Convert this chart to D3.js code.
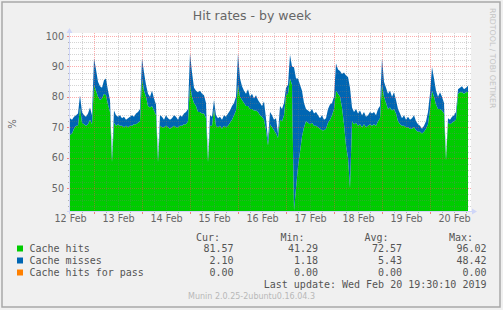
<!DOCTYPE html>
<html lang="en">
<head>
<meta charset="UTF-8">
<title>Hit rates - by week</title>
<script src="https://d3js.org/d3.v7.min.js"></script>
<style>
  body { margin: 0; }
  svg { display: block; }
  text { font-family: "DejaVu Sans", sans-serif; fill: #666; }
  .mono { font-family: "DejaVu Sans Mono", monospace; fill: #555; }
</style>
</head>
<body>
<svg id="chart" width="503" height="310"></svg>
<script>
// hourly samples, first one 12 Feb 12:00
const hits = [
  67.5,68,69.5,70.5,70.5,76.5,71.5,71,70.5,71,72.5,71,
  84,82,80,79,79.5,81,80.5,77.5,75,58.5,71.5,70.5,71,70.5,70.5,70,70.5,70,70.5,70.5,71,71,71.5,72,
  86,82,80,77,76.5,77,75.5,74,58.5,70.5,70,70,70.5,70,69.5,70,70.5,70,70,70.5,70.5,71,71,72,
  84,80,78,77,75,75,74.5,74.5,73,58.5,70.5,70.5,76,70.5,70,70.5,69.5,70.5,70,70.5,71.5,72.5,74,75.5,
  84,80,79,78,77,77,76,76,75.5,75.5,75,74,73.5,72.5,69,64,71,70,69,68,66.5,72.5,72,74,
  80.5,81,86,84,41.3,50,57,62,67,70,72,71.5,71,71.5,70.5,70.5,70,69.5,69,69,69.5,71.5,72.5,74,
  76,82,81,80,76.5,71,64,60,50,72,71,71.5,70.5,71,70,71,70,70.5,71,70.5,71,70.5,72,73,
  84,80,78,76,76.5,75.5,76,74.5,72,71,70.5,70.5,70,70,69.5,69.5,70,69,68.5,68.5,68,68.5,69.5,71,
  76,82,80,77.5,76,76,75.5,74.5,59,71.5,71,71.5,72,72.5,81,81.5,81.5,81,81.5,81.57
];
const misses = [
  5.5,4.5,4,3.5,4,4,3.5,3,3,3.5,4,3,
  8.7,7,5,4.5,3.5,4.5,5.5,4.5,4,1.5,4,3.5,2.5,3.5,2.5,3.5,2,3,3,3.5,2.5,3.5,3.5,4,
  6.7,6,4,4,3.5,5,4,3.5,1.5,3.5,3.5,2.5,3.5,3,3,3,3.5,3.5,2.5,3.5,3,3.5,4,4,
  10.3,8,5,5,6.5,7,6.5,6,5,1,3.5,3,3,3.5,3,3,3,3.5,3.5,4,4,4.5,4,4.5,
  10.3,6,4.5,4,4,5.5,4,5,4,5,4,4,3.5,6,4,2,4,4,3.5,5,1.5,4.5,4,4,
  2.5,3,7.8,6,48.4,36,29,22,15,8,4,4,4,4.5,4,4.5,4,3.5,5,3.5,3.5,4.5,5,4,
  4,9,8,8.5,11,17,23,26.5,33,4.5,4,4.5,4,4.5,4,4,3.5,3.5,4,4,4,3.5,4,4,
  8.7,5,5,5,5.5,4.5,5.5,4.5,4,3.5,2.5,3.5,2.5,3.5,3,3.5,4,3,2.5,2,1.5,2,2.5,4,
  5,7.8,6,4.5,4,5.5,4.5,3.5,1,1.5,1.5,2,2,2.5,1.5,1.5,2,1.5,1.5,2.1
];
const pass = hits.map(() => 0); // 0.00 all week

const yTicks = [50, 60, 70, 80, 90, 100];
const dayLabels = ["12 Feb", "13 Feb", "14 Feb", "15 Feb", "16 Feb", "17 Feb", "18 Feb", "19 Feb", "20 Feb"];

const legendNames = ["Cache hits", "Cache misses", "Cache hits for pass"];
const curVals = ["81.57", "2.10", "0.00"];
const minVals = ["41.29", "1.18", "0.00"];
const avgVals = ["72.57", "5.43", "0.00"];
const maxVals = ["96.02", "48.42", "0.00"];
const lastUpdate = "Last update: Wed Feb 20 19:30:10 2019";

const colors = ["#00cc00", "#0066b3", "#ff8000"];
const minorGrid = "rgba(120,120,120,0.32)";
const majorGrid = "rgba(250,70,70,0.45)";

const svg = d3.select("#chart");
const start = new Date(2019, 1, 12, 12);
const end = new Date(2019, 1, 20, 20);

const x = d3.scaleTime().domain([start, end]).range([70, 470]);
const y = d3.scaleLinear().domain([42.5, 100]).range([211, 36]).clamp(true);

// background + frame
svg.append("rect").attr("width", 503).attr("height", 310).attr("fill", "#f0f0f0");
svg.append("rect").attr("x", 2).attr("y", 2).attr("width", 498).attr("height", 305)
  .attr("fill", "none").attr("stroke", "#a8a8a8").attr("stroke-width", 1.5);
svg.append("rect").attr("x", 70).attr("y", 33).attr("width", 401).attr("height", 178).attr("fill", "#fff");

svg.append("defs").append("clipPath").attr("id", "plot")
  .append("rect").attr("x", 70).attr("y", 33).attr("width", 401).attr("height", 178);

// stacked areas
const rows = hits.map((h, i) => ({ t: d3.timeHour.offset(start, i), hits: h, misses: misses[i], pass: pass[i] }));
const series = d3.stack().keys(["hits", "misses", "pass"])(rows);
const area = d3.area()
  .x(d => x(d.data.t))
  .y0(d => y(d[0]))
  .y1(d => y(d[1]));
svg.append("g").attr("clip-path", "url(#plot)")
  .selectAll("path").data(series).enter().append("path")
  .attr("d", area).attr("fill", (d, i) => colors[i]);

// grid
const grid = svg.append("g");
const minorH = d3.range(44, 100, 2).filter(v => v % 10 !== 0);
grid.selectAll(".hmin").data(minorH).enter().append("line")
  .attr("x1", 70).attr("x2", 471).attr("y1", d => Math.round(y(d)) + 0.5).attr("y2", d => Math.round(y(d)) + 0.5)
  .attr("stroke", minorGrid).attr("stroke-dasharray", "1,1");
const sixHours = d3.timeHour.every(6).range(d3.timeHour.offset(start, 1), end);
const minorV = sixHours.filter(d => d.getHours() !== 0);
const majorV = sixHours.filter(d => d.getHours() === 0);
grid.selectAll(".vmin").data(minorV).enter().append("line")
  .attr("y1", 33).attr("y2", 211).attr("x1", d => Math.round(x(d)) + 0.5).attr("x2", d => Math.round(x(d)) + 0.5)
  .attr("stroke", minorGrid).attr("stroke-dasharray", "1,1");
grid.selectAll(".hmaj").data(yTicks).enter().append("line")
  .attr("x1", 70).attr("x2", 471).attr("y1", d => Math.round(y(d)) + 0.5).attr("y2", d => Math.round(y(d)) + 0.5)
  .attr("stroke", majorGrid).attr("stroke-dasharray", "1,1");
grid.selectAll(".vmaj").data(majorV).enter().append("line")
  .attr("y1", 33).attr("y2", 211).attr("x1", d => Math.round(x(d)) + 0.5).attr("x2", d => Math.round(x(d)) + 0.5)
  .attr("stroke", majorGrid).attr("stroke-dasharray", "1,1");

// small ticks outside the plot
grid.selectAll(".tx").data(sixHours).enter().append("line")
  .attr("y1", 211).attr("y2", d => d.getHours() === 0 ? 214 : 213)
  .attr("x1", d => Math.round(x(d)) + 0.5).attr("x2", d => Math.round(x(d)) + 0.5)
  .attr("stroke", d => d.getHours() === 0 ? "#f08080" : "#b0b0b0");
grid.selectAll(".ty").data(minorH.concat(yTicks)).enter().append("line")
  .attr("x1", d => d % 10 === 0 ? 67 : 68).attr("x2", 70)
  .attr("y1", d => Math.round(y(d)) + 0.5).attr("y2", d => Math.round(y(d)) + 0.5)
  .attr("stroke", d => d % 10 === 0 ? "#f08080" : "#b0b0b0");

// axis lines + arrows
svg.append("line").attr("x1", 67).attr("x2", 472).attr("y1", 211.5).attr("y2", 211.5).attr("stroke", "#cfd6f8");
svg.append("line").attr("x1", 69.5).attr("x2", 69.5).attr("y1", 214).attr("y2", 32).attr("stroke", "#cfd6f8");
svg.append("path").attr("d", "M472,208.5L477,211.5L472,214.5Z").attr("fill", "#cfd6f8");
svg.append("path").attr("d", "M66.5,33L69.5,28L72.5,33Z").attr("fill", "#cfd6f8");

// axis labels
const yAxis = svg.append("g").attr("transform", "translate(64,0)")
  .call(d3.axisLeft(y).tickValues(yTicks).tickSize(0).tickPadding(0));
yAxis.select(".domain").remove();
yAxis.selectAll("text").attr("font-size", 9.6).attr("font-family", "DejaVu Sans").attr("fill", "#555");

const noonTicks = dayLabels.map((d, i) => d3.timeDay.offset(start, i));
const xAxis = svg.append("g").attr("transform", "translate(0,213)")
  .call(d3.axisBottom(x).tickValues(noonTicks).tickSize(0).tickPadding(2)
    .tickFormat((d, i) => dayLabels[i]));
xAxis.select(".domain").remove();
xAxis.selectAll("text").attr("font-size", 9.6).attr("font-family", "DejaVu Sans").attr("fill", "#555");

// titles
svg.append("text").attr("x", 252).attr("y", 20).attr("text-anchor", "middle")
  .attr("font-size", 12.5).text("Hit rates - by week");
svg.append("text").attr("transform", "translate(16,124) rotate(-90)").attr("text-anchor", "middle")
  .attr("font-size", 10).text("%");
svg.append("text").attr("transform", "translate(490,8) rotate(90)")
  .attr("font-size", 7.8).style("fill", "#c4c4c4").text("RRDTOOL / TOBI OETIKER");

// legend
const cols = [["Cur:", curVals, 233.5], ["Min:", minVals, 318], ["Avg:", avgVals, 402], ["Max:", maxVals, 486.5]];
cols.forEach(([head, vals, right]) => {
  svg.append("text").attr("class", "mono").attr("x", right - 13.5).attr("y", 240.5)
    .attr("text-anchor", "end").attr("font-size", 10).text(head);
  vals.forEach((v, i) => {
    svg.append("text").attr("class", "mono").attr("x", right).attr("y", 252 + i * 12)
      .attr("text-anchor", "end").attr("font-size", 10).text(v);
  });
});
legendNames.forEach((name, i) => {
  svg.append("rect").attr("x", 17).attr("y", 245.5 + i * 12).attr("width", 6).attr("height", 6).attr("fill", colors[i]);
  svg.append("text").attr("class", "mono").attr("x", 29.5).attr("y", 252 + i * 12)
    .attr("font-size", 10).text(name);
});
svg.append("text").attr("class", "mono").attr("x", 486.5).attr("y", 288).attr("text-anchor", "end")
  .attr("font-size", 10).text(lastUpdate);
svg.append("text").attr("x", 251.5).attr("y", 299).attr("text-anchor", "middle")
  .attr("font-size", 8).style("fill", "#b8b8b8").text("Munin 2.0.25-2ubuntu0.16.04.3");
</script>
</body>
</html>
